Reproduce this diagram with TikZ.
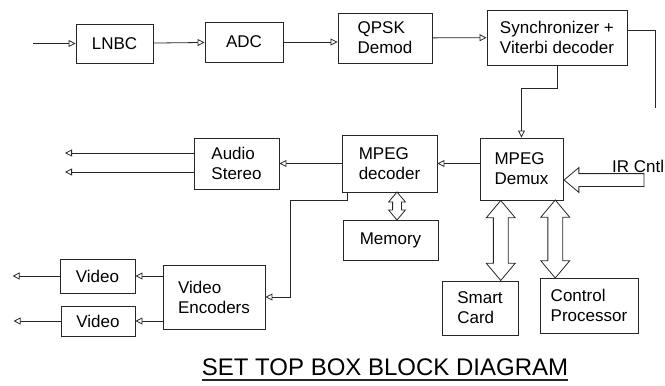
\documentclass[tikz,border=0pt]{standalone}
\usepackage{fontspec}
\setmainfont{Liberation Sans}
\usetikzlibrary{shapes.arrows, arrows.meta, positioning, calc}

\begin{document}
\begin{tikzpicture}[
  x=1pt, y=-1pt,
  font=\fontsize{17}{20}\selectfont,
  blocco/.style={draw=black!85, line width=0.9pt, align=left, inner sep=2pt},
  punta/.style={-{Triangle[open, length=7pt, width=7pt]}},
  collegamento/.style={draw=black!85, line width=0.8pt, punta},
  bus/.style={draw=black!85, line width=0.8pt, double arrow, inner xsep=0pt,
              inner ysep=#1, double arrow head extend=#1, double arrow tip angle=80,
              rotate=90},
  bus/.default=7pt,
  ingresso/.style={draw=black!85, line width=0.8pt, single arrow, inner xsep=0pt,
                   inner ysep=6pt, single arrow head extend=6pt, single arrow tip angle=80,
                   rotate=180}
]
\useasboundingbox (0,0) rectangle (665,386);

% catena di ricezione
\node[blocco, minimum width=77pt, minimum height=39pt] (lnbc) at (114.5,43.5) {LNBC};
\node[blocco, minimum width=78pt, minimum height=40pt] (adc) at (244,42) {ADC};
\node[blocco, minimum width=94pt, minimum height=50pt] (qpsk) at (385,38) {QPSK\\Demod};
\node[blocco, minimum width=140pt, minimum height=55pt] (sync) at (557,37.5) {Synchronizer +\\Viterbi decoder};

\coordinate (ant) at (33,43.5);
\draw[collegamento] (ant) -- (lnbc);
\draw[collegamento] (lnbc) -- (adc);
\draw[collegamento] (adc.east) -- (adc.east -| qpsk.west);
\draw[collegamento] (qpsk) -- (sync);
\coordinate (fine) at (655,108);
\draw[draw=black!85, line width=0.8pt] ([yshift=7.5pt]sync.east) -| (fine);

% decodifica
\node[blocco, minimum width=83pt, minimum height=62pt] (demux) at (521.5,169) {MPEG\\Demux};
\node[blocco, minimum width=95pt, minimum height=57pt] (dec) at (389.5,163.5) {MPEG\\decoder};
\node[blocco, minimum width=95pt, minimum height=40pt] (mem) at (390.5,240) {Memory};
\node[blocco, minimum width=85pt, minimum height=51pt] (audio) at (236.5,163.5) {Audio\\Stereo};

\draw[collegamento] (sync.south) -- ++(0,23) -| (demux.north);
\draw[collegamento] (dec.east -| demux.west) -- (dec.east);
\draw[collegamento] (dec) -- (audio);
\foreach \n/\y in {1/153, 2/172} {
  \coordinate (uscita\n) at (65,\y);
  \draw[collegamento] (audio.west |- uscita\n) -- (uscita\n);
}
\node[bus=4pt, minimum height=28pt] (busmem)
  at ($([xshift=7pt]dec.south)!0.5!([xshift=7pt]mem.north)$) {};

% periferiche
\node[blocco, minimum width=76pt, minimum height=54pt] (smart) at (480,308) {Smart\\Card};
\node[blocco, minimum width=98pt, minimum height=55pt] (ctrl) at (589,305.5) {Control\\Processor};
\node[bus, minimum height=80pt] (bussmart) at ($(demux.south)!0.5!(smart.north)$) {};
\node[bus, minimum height=78pt] (busctrl) at ($(demux.south)!0.5!(ctrl.north)$) {};
\node[ingresso, minimum height=80pt, anchor=tip] (ir) at ([yshift=-11pt]demux.east) {};
\node[anchor=base west, inner sep=0pt] (irlbl) at (612,172) {IR Cntl};

% uscite video
\node[blocco, minimum width=102pt, minimum height=64pt] (vidx) at (214,297) {Video\\Encoders};
\node[blocco, minimum width=75pt, minimum height=34pt] (vid1) at (97.5,276) {Video};
\node[blocco, minimum width=74pt, minimum height=30pt] (vid2) at (98,321) {Video};

\draw[collegamento] ([xshift=6pt]dec.south west) -- ++(0,8) -| ([xshift=25pt]vidx.east) -- (vidx.east);
\foreach \v in {1,2} {
  \coordinate (video\v) at ([xshift=-47pt]vid\v.west);
  \draw[collegamento] (vidx.west |- vid\v.east) -- (vid\v.east);
  \draw[collegamento] (vid\v.west) -- (video\v);
}

% titolo
\node[anchor=base, inner sep=0pt, font=\fontsize{24}{28}\selectfont] (titolo) at (385,375)
  {SET TOP BOX BLOCK DIAGRAM};
\draw[line width=1.3pt, black!85] ([yshift=-5pt]titolo.base west) -- ([yshift=-5pt]titolo.base east);

\end{tikzpicture}
\end{document}
